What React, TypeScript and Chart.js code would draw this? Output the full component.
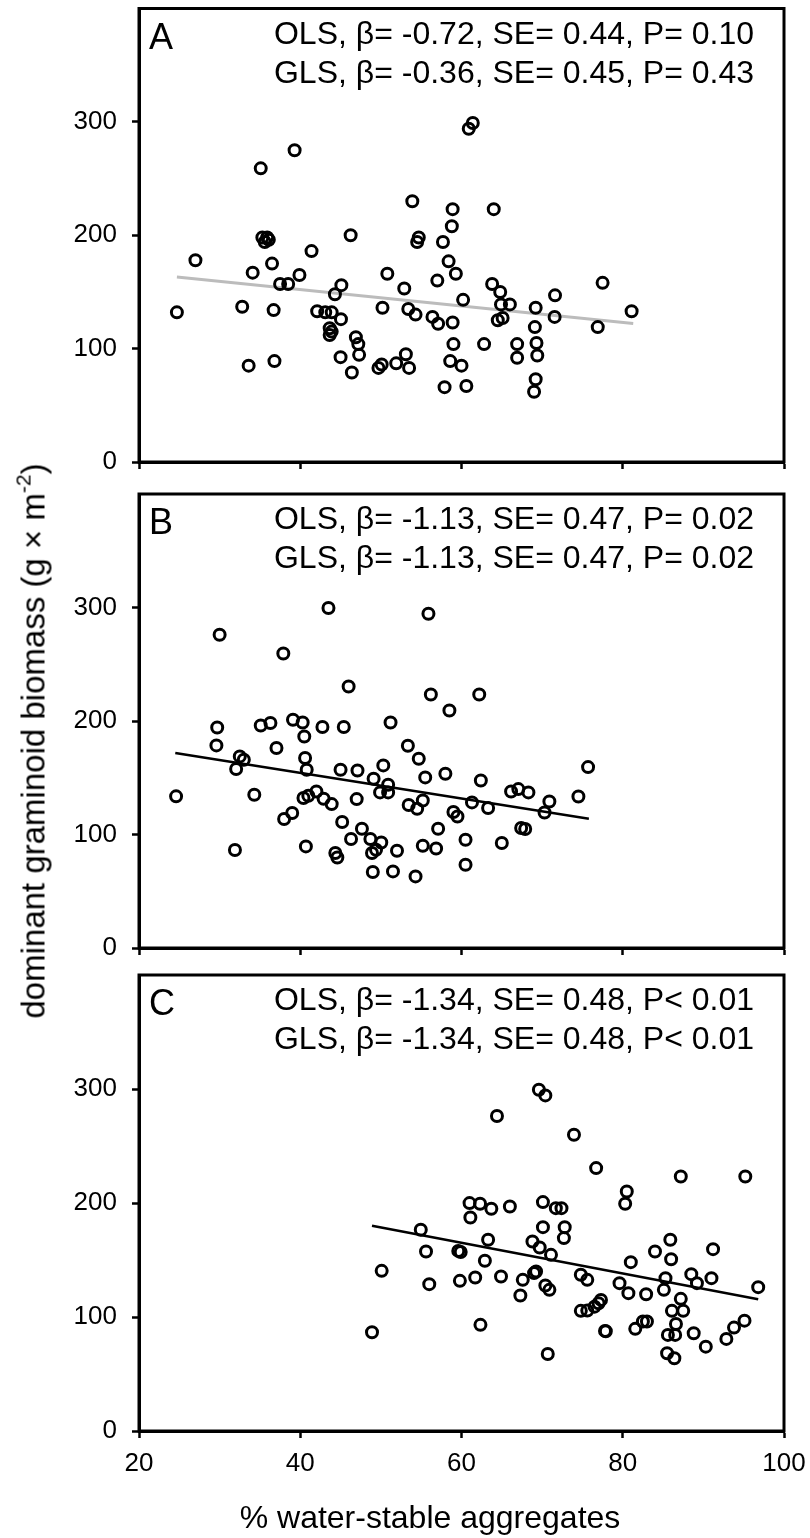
import React, { useEffect, useRef } from 'react';
import { Chart, registerables } from 'chart.js';

Chart.register(...registerables);

const FONT = '"Liberation Sans", Arial, Helvetica, sans-serif';

// ---------- text ----------
const panelLetters = ['A', 'B', 'C'];
const olsLabels = [
  'OLS, β= -0.72, SE= 0.44, P= 0.10',
  'OLS, β= -1.13, SE= 0.47, P= 0.02',
  'OLS, β= -1.34, SE= 0.48, P< 0.01',
];
const glsLabels = [
  'GLS, β= -0.36, SE= 0.45, P= 0.43',
  'GLS, β= -1.13, SE= 0.47, P= 0.02',
  'GLS, β= -1.34, SE= 0.48, P< 0.01',
];
const xTitle = '% water-stable aggregates';
const yTitleMain = 'dominant graminoid biomass (g × m';
const yTitleSup = '-2';
const xTicks = [20, 40, 60, 80, 100];
const yTicks = [0, 100, 200, 300];

// ---------- panel A ----------
const aggA = [24.7, 27.0, 32.8, 33.6, 34.1, 35.1, 35.3, 35.9, 35.6, 36.1, 36.5, 36.7, 36.8, 37.5, 38.5, 39.3, 39.9, 41.4, 42.1, 43.1, 43.9, 43.65, 43.9, 43.65, 44.3, 45.1, 45.05, 45.0, 46.25, 46.4, 46.9, 47.2, 47.3, 49.7, 50.1, 50.2, 50.8, 51.9, 52.9, 53.1, 53.4, 53.5, 53.9, 54.3, 54.5, 54.7, 56.4, 57.0, 57.1, 57.7, 57.9, 58.4, 58.6, 58.8, 58.9, 58.9, 59.0, 59.3, 60.0, 60.2, 60.6, 60.9, 61.4, 62.8, 63.8, 64.0, 64.8, 64.9, 66.0, 64.5, 65.1, 66.9, 66.9, 69.2, 69.1, 69.3, 69.4, 69.2, 69.0, 71.6, 71.55, 76.9, 77.5, 81.1];
const bioA = [132, 178, 137, 85, 167, 259, 198, 198, 194, 196, 175, 134, 89, 157, 157, 275, 165, 186, 133, 132, 132, 118, 115, 112, 148, 156, 126, 92.5, 200, 79, 110, 104, 94.5, 83, 86, 136, 166, 87, 153, 95, 135, 83, 230, 130, 194, 198, 128, 160, 122, 194, 66, 177, 89, 208, 223, 123, 104, 166, 85, 143, 67, 294, 299, 104, 157, 223, 150, 139, 139, 125, 127, 104, 92, 136, 119, 105, 94, 73, 62, 147, 128, 119, 158, 133];
const fitAx = [24.7, 81.3];
const fitAy = [163.2, 122.1];

// ---------- panel B ----------
const aggB = [24.6, 30.0, 29.7, 29.6, 31.9, 32.05, 32.5, 33.0, 34.3, 35.1, 36.3, 37.05, 37.9, 38.0, 39.0, 39.1, 40.3, 40.5, 40.6, 40.8, 40.4, 41.0, 40.7, 42.0, 42.75, 43.5, 42.9, 43.9, 44.35, 44.6, 45.0, 45.2, 45.4, 46.0, 46.3, 47.1, 47.0, 47.65, 48.7, 49.1, 48.9, 49.4, 50.05, 49.0, 50.3, 49.9, 50.9, 50.9, 51.2, 51.5, 52.0, 53.35, 53.45, 54.5, 54.7, 55.2, 55.5, 55.2, 55.9, 56.2, 54.3, 56.85, 57.1, 58.0, 58.5, 59.0, 59.5, 62.2, 60.5, 60.5, 61.3, 62.4, 63.3, 65.0, 66.15, 67.05, 68.3, 67.4, 67.9, 70.3, 70.9, 74.5, 75.7];
const bioB = [133.6, 276, 194.3, 178.5, 86.3, 157.7, 168.8, 165.9, 135, 196.1, 198.2, 176.2, 259.5, 113.6, 118.9, 201.1, 198.7, 186.4, 167.4, 157.1, 132.1, 134.1, 89.5, 137.9, 194.7, 299.5, 131.5, 126.8, 83.7, 79.8, 157.1, 111, 194.7, 230.4, 96, 156.4, 131.2, 105.1, 96, 149.1, 83.7, 86.6, 93, 66.9, 160.9, 137.1, 143.8, 137.1, 198.7, 67.5, 85.7, 178.2, 126, 122.7, 166.7, 130, 150.3, 90.1, 294.5, 223.4, 63.1, 87.7, 105.1, 153.5, 209.3, 119.8, 115.9, 223.4, 95.4, 73.4, 128.3, 147.6, 123.3, 92.5, 137.9, 140, 137.1, 105.7, 104.8, 119.4, 129.1, 133.5, 159.4];
const fitBx = [24.5, 75.8];
const fitBy = [171.8, 113.9];

// ---------- panel C ----------
const aggC = [48.9, 50.1, 54.95, 55.6, 56.0, 59.6, 59.9, 59.8, 69.6, 70.4, 64.4, 73.95, 76.7, 87.2, 95.2, 80.5, 80.3, 61.0, 62.3, 63.7, 61.1, 66.0, 70.1, 71.7, 72.4, 70.1, 72.8, 72.7, 63.3, 68.8, 69.7, 71.1, 62.9, 81.0, 84.0, 85.9, 86.0, 91.2, 61.7, 64.9, 67.3, 67.6, 69.0, 69.25, 70.4, 70.9, 74.8, 75.6, 74.8, 75.6, 76.5, 77.3, 77.0, 77.8, 77.9, 79.6, 80.7, 82.9, 81.55, 82.5, 83.0, 85.1, 85.3, 87.2, 87.5, 86.1, 86.6, 85.6, 86.5, 85.5, 86.4, 88.5, 89.2, 91.0, 88.8, 90.3, 92.85, 93.8, 95.1, 96.8, 62.35, 70.7];
const bioC = [86.6, 140.5, 176.5, 157.4, 128.8, 158, 157, 131.7, 299.4, 294.4, 276.3, 259.9, 230.6, 223.3, 223.3, 210.1, 199.3, 199.9, 199.3, 194.9, 187.3, 196.9, 200.8, 195.5, 195.5, 178.8, 178.8, 169.2, 167.7, 166.2, 160.9, 154.5, 149.3, 148.1, 157.4, 167.7, 150.7, 159.5, 134.6, 135.5, 118.8, 132.6, 138.5, 139.9, 127.6, 123.8, 137, 132.6, 105.4, 105.6, 109.1, 115, 112, 87.8, 87.5, 129.7, 120.9, 120, 89.6, 96, 96, 123.8, 134.1, 115.9, 105.4, 105.4, 93.9, 84.3, 84.3, 68.2, 63.8, 137.6, 129.7, 134.1, 85.8, 74, 80.8, 90.7, 96.8, 126.2, 93.1, 67.6];
const fitCx = [48.9, 96.8];
const fitCy = [180.0, 115.6];

const fitColors = ['#bcbcbc', '#000000', '#000000'];

type PanelDef = {
  idx: number;
  xs: number[];
  ys: number[];
  fx: number[];
  fy: number[];
  top: number;
  height: number;
  padTop: number;
  xAxisHeight: number;
  showXLabels: boolean;
};

// canvases may overlap (they are transparent)
const panels: PanelDef[] = [
  { idx: 0, xs: aggA, ys: bioA, fx: fitAx, fy: fitAy, top: 0, height: 494, padTop: 8, xAxisHeight: 32, showXLabels: false },
  { idx: 1, xs: aggB, ys: bioB, fx: fitBx, fy: fitBy, top: 480, height: 500, padTop: 14, xAxisHeight: 32, showXLabels: false },
  { idx: 2, xs: aggC, ys: bioC, fx: fitCx, fy: fitCy, top: 966, height: 572, padTop: 9, xAxisHeight: 107, showXLabels: true },
];

function decorPlugin(idx: number) {
  return {
    id: 'panelDecor' + idx,
    afterDraw(chart: any) {
      const { ctx, chartArea: a } = chart;
      ctx.save();
      ctx.strokeStyle = '#000';
      ctx.lineWidth = 3;
      ctx.strokeRect(a.left, a.top, a.right - a.left, a.bottom - a.top);
      ctx.fillStyle = '#000';
      ctx.textBaseline = 'alphabetic';
      ctx.font = `36px ${FONT}`;
      ctx.textAlign = 'left';
      ctx.fillText(panelLetters[idx], a.left + 10, a.top + 40);
      ctx.font = `32px ${FONT}`;
      ctx.textAlign = 'right';
      ctx.fillText(olsLabels[idx], a.right - 30, a.top + 35);
      ctx.fillText(glsLabels[idx], a.right - 30, a.top + 74);
      ctx.restore();
    },
  };
}

function Panel({ def }: { def: PanelDef }) {
  const ref = useRef<HTMLCanvasElement>(null);
  useEffect(() => {
    const canvas = ref.current;
    if (!canvas) return;
    const gridOpts = {
      drawOnChartArea: false,
      drawTicks: true,
      tickLength: 7,
      tickWidth: 2.5,
      color: '#000',
    };
    const borderOpts = { display: true, color: '#000', width: 3 };
    const chart = new Chart(canvas, {
      type: 'scatter',
      data: {
        datasets: [
          {
            type: 'line',
            data: def.fx.map((x, i) => ({ x, y: def.fy[i] })),
            borderColor: fitColors[def.idx],
            borderWidth: def.idx === 0 ? 3 : 2.5,
            pointRadius: 0,
            fill: false,
            order: 2,
          } as any,
          {
            type: 'scatter',
            data: def.xs.map((x, i) => ({ x, y: def.ys[i] })),
            pointStyle: 'circle',
            pointRadius: 5.5,
            pointBorderWidth: 3,
            pointBorderColor: '#000',
            pointBackgroundColor: 'rgba(0,0,0,0)',
            order: 1,
          } as any,
        ],
      },
      options: {
        animation: false,
        responsive: false,
        maintainAspectRatio: false,
        layout: { padding: { top: def.padTop, right: 26, left: 0, bottom: 0 } },
        plugins: { legend: { display: false }, tooltip: { enabled: false } },
        scales: {
          x: {
            type: 'linear',
            min: xTicks[0],
            max: xTicks[xTicks.length - 1],
            afterBuildTicks: (s: any) => {
              s.ticks = xTicks.map((v) => ({ value: v }));
            },
            ticks: {
              display: def.showXLabels,
              color: '#000',
              font: { size: 26, family: FONT },
              padding: 10,
              maxRotation: 0,
              autoSkip: false,
            },
            grid: gridOpts,
            border: borderOpts,
            afterFit: (s: any) => {
              s.height = def.xAxisHeight;
              s.paddingLeft = 0;
              s.paddingRight = 0;
              s.paddingTop = 0;
              s.paddingBottom = 0;
            },
          },
          y: {
            type: 'linear',
            min: 0,
            max: 400,
            afterBuildTicks: (s: any) => {
              s.ticks = yTicks.map((v) => ({ value: v }));
            },
            ticks: {
              color: '#000',
              font: { size: 26, family: FONT },
              padding: 15,
              autoSkip: false,
            },
            grid: gridOpts,
            border: borderOpts,
            afterFit: (s: any) => {
              s.width = 139;
              s.paddingTop = 0;
              s.paddingBottom = 0;
              s.paddingLeft = 0;
              s.paddingRight = 0;
            },
          },
        },
      } as any,
      plugins: [decorPlugin(def.idx)],
    });
    return () => chart.destroy();
  }, [def]);
  return (
    <canvas
      ref={ref}
      width={810}
      height={def.height}
      style={{ position: 'absolute', left: 0, top: def.top, width: 810, height: def.height }}
    />
  );
}

export default function App() {
  return (
    <div
      style={{
        position: 'absolute',
        left: 0,
        top: 0,
        width: 810,
        height: 1538,
        background: '#fff',
        overflow: 'hidden',
        fontFamily: FONT,
        color: '#000',
      }}
    >
      {panels.map((p) => (
        <Panel key={p.idx} def={p} />
      ))}
      <div
        style={{
          position: 'absolute',
          left: 35,
          top: 741,
          transform: 'translate(-50%, -50%) rotate(-90deg)',
          whiteSpace: 'nowrap',
          fontSize: 33,
          lineHeight: '33px',
        }}
      >
        {yTitleMain}
        <span style={{ fontSize: 21, position: 'relative', top: -14 }}>{yTitleSup}</span>)
      </div>
      <div
        style={{
          position: 'absolute',
          left: 430,
          top: 1501,
          transform: 'translateX(-50%)',
          whiteSpace: 'nowrap',
          fontSize: 32,
          lineHeight: '32px',
        }}
      >
        {xTitle}
      </div>
    </div>
  );
}
